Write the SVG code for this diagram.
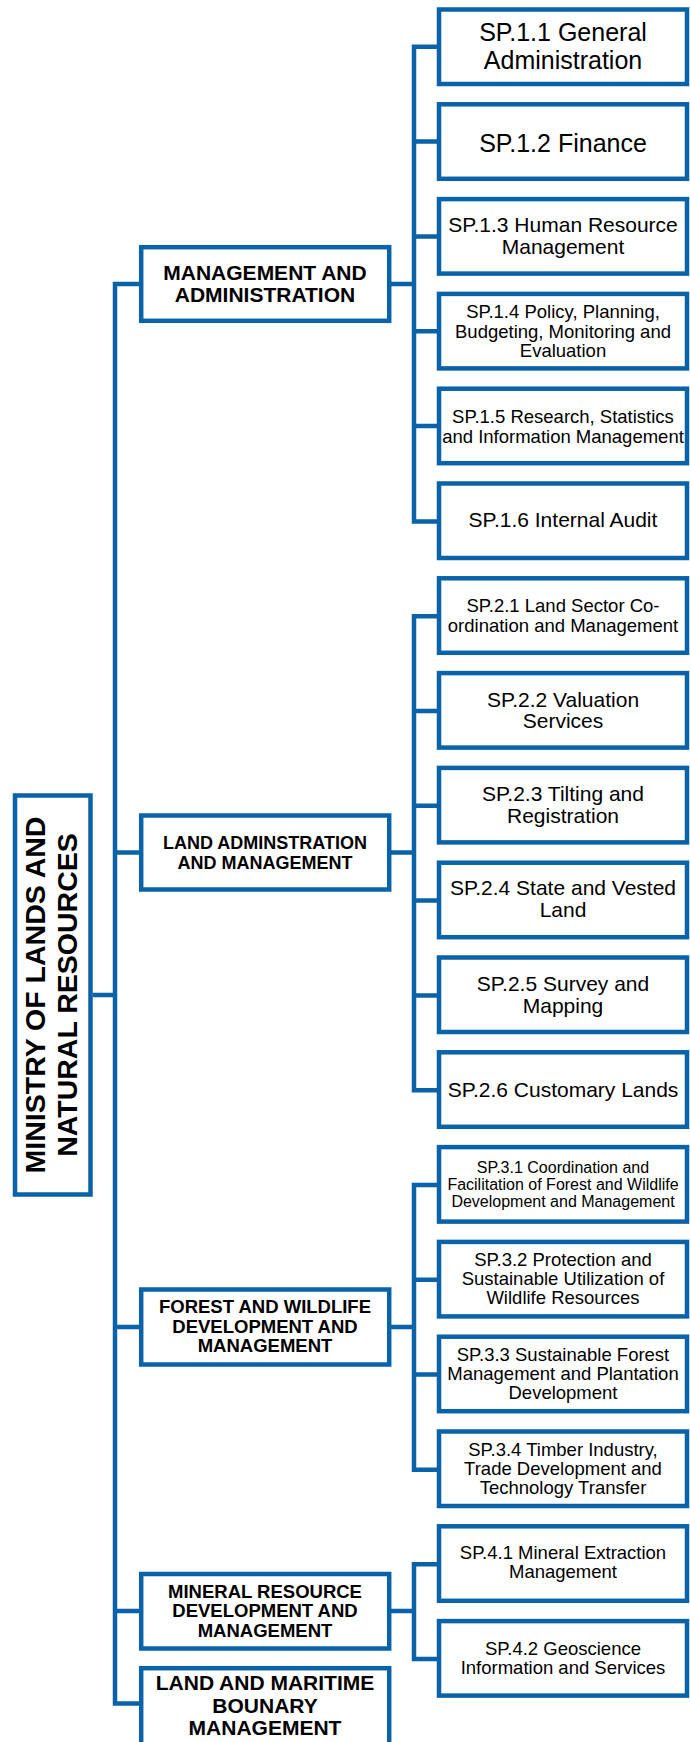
<svg xmlns="http://www.w3.org/2000/svg" width="690" height="1742" viewBox="0 0 690 1742">
<style>
.box{fill:#fff;stroke:#0a62a8;stroke-width:4.5}
.con{fill:none;stroke:#0a62a8;stroke-width:4.5;stroke-linejoin:miter}
text{font-family:"Liberation Sans",Arial,Helvetica,sans-serif;fill:#000;text-anchor:middle}
.b{font-weight:bold}
.s25{font-size:25px}.s21{font-size:21px}.s185{font-size:18.5px}.s16{font-size:16px}.s18{font-size:18px}
</style>
<rect width="690" height="1742" fill="#fff"/>
<g id="connectors">
<path class="con" d="M92.7,995 H115 M139,284 H115 V1703.5 H139 M115,852.5 H139 M115,1327 H139 M115,1611 H139"/>
<path class="con" d="M391,284 H414 M439,46.8 H414 V521.5 H439 M414,141.6 H439 M414,236.4 H439 M414,331.2 H439 M414,426 H439"/>
<path class="con" d="M391,852.5 H414 M439,616.2 H414 V1090.2 H439 M414,711 H439 M414,805.8 H439 M414,900.6 H439 M414,995.4 H439"/>
<path class="con" d="M391,1327 H414 M439,1185 H414 V1469.8 H439 M414,1279.8 H439 M414,1374.6 H439"/>
<path class="con" d="M391,1611 H414 M439,1564.2 H414 V1659 H439"/>
</g>
<g id="root">
<rect class="box" x="15" y="795.5" width="75.5" height="399"/>
<text class="b" font-size="28.5" transform="translate(45,995) rotate(-90)">MINISTRY OF LANDS AND</text>
<text class="b" font-size="28.5" transform="translate(77,995) rotate(-90)">NATURAL RESOURCES</text>
</g>
<g id="cat1">
<rect class="box" x="141.2" y="247.2" width="248" height="73.6"/>
<text class="b s21" x="265" y="280">MANAGEMENT AND</text>
<text class="b s21" x="265" y="301.7">ADMINISTRATION</text>
</g>
<g id="cat2">
<rect class="box" x="141.2" y="815.5" width="248" height="74"/>
<text class="b s18" x="265" y="848.7">LAND ADMINSTRATION</text>
<text class="b s18" x="265" y="869.3">AND MANAGEMENT</text>
</g>
<g id="cat3">
<rect class="box" x="141.2" y="1289.5" width="248" height="75"/>
<text class="b s185" x="265" y="1313.3">FOREST AND WILDLIFE</text>
<text class="b s185" x="265" y="1332.7">DEVELOPMENT AND</text>
<text class="b s185" x="265" y="1351.7">MANAGEMENT</text>
</g>
<g id="cat4">
<rect class="box" x="141.2" y="1574" width="248" height="74.5"/>
<text class="b s185" x="265" y="1598.3">MINERAL RESOURCE</text>
<text class="b s185" x="265" y="1617.3">DEVELOPMENT AND</text>
<text class="b s185" x="265" y="1637.3">MANAGEMENT</text>
</g>
<g id="cat5">
<rect class="box" x="141.2" y="1668.2" width="248" height="80"/>
<text class="b s21" x="265" y="1690">LAND AND MARITIME</text>
<text class="b s21" x="265" y="1712.7">BOUNARY</text>
<text class="b s21" x="265" y="1735">MANAGEMENT</text>
</g>
<g id="sp11"><rect class="box" x="439" y="9.5" width="248" height="74.5"/>
<text class="s25" x="563" y="41.2">SP.1.1 General</text><text class="s25" x="563" y="69.2">Administration</text></g>
<g id="sp12"><rect class="box" x="439" y="104.3" width="248" height="74.5"/>
<text class="s25" x="563" y="151.5">SP.1.2 Finance</text></g>
<g id="sp13"><rect class="box" x="439" y="199.1" width="248" height="74.5"/>
<text class="s21" x="563" y="232">SP.1.3 Human Resource</text><text class="s21" x="563" y="254">Management</text></g>
<g id="sp14"><rect class="box" x="439" y="293.9" width="248" height="74.5"/>
<text class="s185" x="563" y="318.3">SP.1.4 Policy, Planning,</text><text class="s185" x="563" y="338">Budgeting, Monitoring and</text><text class="s185" x="563" y="357.3">Evaluation</text></g>
<g id="sp15"><rect class="box" x="439" y="388.7" width="248" height="74.5"/>
<text class="s185" x="563" y="423.3">SP.1.5 Research, Statistics</text><text class="s185" x="563" y="442.5">and Information Management</text></g>
<g id="sp16"><rect class="box" x="439" y="483.5" width="248" height="74.5"/>
<text class="s21" x="563" y="527.3">SP.1.6 Internal Audit</text></g>
<g id="sp21"><rect class="box" x="439" y="578.3" width="248" height="74.5"/>
<text class="s185" x="563" y="611.7">SP.2.1 Land Sector Co-</text><text class="s185" x="563" y="631.7">ordination and Management</text></g>
<g id="sp22"><rect class="box" x="439" y="673.1" width="248" height="74.5"/>
<text class="s21" x="563" y="706.7">SP.2.2 Valuation</text><text class="s21" x="563" y="728.3">Services</text></g>
<g id="sp23"><rect class="box" x="439" y="767.9" width="248" height="74.5"/>
<text class="s21" x="563" y="800.7">SP.2.3 Tilting and</text><text class="s21" x="563" y="823.3">Registration</text></g>
<g id="sp24"><rect class="box" x="439" y="862.7" width="248" height="74.5"/>
<text class="s21" x="563" y="895">SP.2.4 State and Vested</text><text class="s21" x="563" y="917.3">Land</text></g>
<g id="sp25"><rect class="box" x="439" y="957.5" width="248" height="74.5"/>
<text class="s21" x="563" y="990.7">SP.2.5 Survey and</text><text class="s21" x="563" y="1012.7">Mapping</text></g>
<g id="sp26"><rect class="box" x="439" y="1052.3" width="248" height="74.5"/>
<text class="s21" x="563" y="1096.7">SP.2.6 Customary Lands</text></g>
<g id="sp31"><rect class="box" x="439" y="1147.1" width="248" height="74.5"/>
<text class="s16" x="563" y="1172.7">SP.3.1 Coordination and</text><text class="s16" x="563" y="1189.5">Facilitation of Forest and Wildlife</text><text class="s16" x="563" y="1206.7">Development and Management</text></g>
<g id="sp32"><rect class="box" x="439" y="1241.9" width="248" height="74.5"/>
<text class="s185" x="563" y="1265.7">SP.3.2 Protection and</text><text class="s185" x="563" y="1285">Sustainable Utilization of</text><text class="s185" x="563" y="1304">Wildlife Resources</text></g>
<g id="sp33"><rect class="box" x="439" y="1336.7" width="248" height="74.5"/>
<text class="s185" x="563" y="1360.7">SP.3.3 Sustainable Forest</text><text class="s185" x="563" y="1380">Management and Plantation</text><text class="s185" x="563" y="1399.3">Development</text></g>
<g id="sp34"><rect class="box" x="439" y="1431.5" width="248" height="74.5"/>
<text class="s185" x="563" y="1456">SP.3.4 Timber Industry,</text><text class="s185" x="563" y="1475">Trade Development and</text><text class="s185" x="563" y="1494">Technology Transfer</text></g>
<g id="sp41"><rect class="box" x="439" y="1526.3" width="248" height="74.5"/>
<text class="s185" x="563" y="1559.3">SP.4.1 Mineral Extraction</text><text class="s185" x="563" y="1578.3">Management</text></g>
<g id="sp42"><rect class="box" x="439" y="1621.1" width="248" height="74.5"/>
<text class="s185" x="563" y="1655">SP.4.2 Geoscience</text><text class="s185" x="563" y="1674">Information and Services</text></g>
</svg>
